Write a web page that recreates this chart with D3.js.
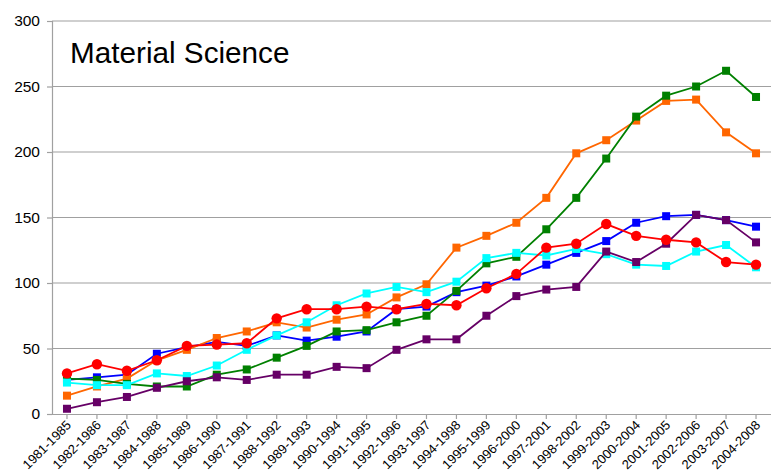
<!DOCTYPE html>
<html><head><meta charset="utf-8">
<script src="https://cdn.jsdelivr.net/npm/d3@7"></script>
<style>body{margin:0;background:#fff}svg{display:block}text{font-family:"Liberation Sans",Arial,sans-serif}</style>
</head><body><svg id="c" width="771" height="474"></svg>
<script>
const categories = ["1981-1985","1982-1986","1983-1987","1984-1988","1985-1989","1986-1990","1987-1991","1988-1992","1989-1993","1990-1994","1991-1995","1992-1996","1993-1997","1994-1998","1995-1999","1996-2000","1997-2001","1998-2002","1999-2003","2000-2004","2001-2005","2002-2006","2003-2007","2004-2008"];
const yTicks = [0,50,100,150,200,250,300];
const title = "Material Science";
const redValues    = [31,38,33,41,52,53,54,73,80,80,82,80,84,83,96,107,127,130,145,136,133,131,116,114];
const blueValues   = [26,28,30,46,51,55,52,60,56,59,63,80,82,93,98,105,114,123,132,146,151,152,148,143];
const orangeValues = [14,21,27,41,49,58,63,70,66,72,76,89,99,127,136,146,165,199,209,224,239,240,215,199];
const greenValues  = [27,26,23,21,21,30,34,43,52,63,64,70,75,94,115,120,141,165,195,227,243,250,262,242];
const cyanValues   = [24,22,22,31,29,37,49,60,70,83,92,97,93,101,119,123,121,126,122,114,113,124,129,112];
const purpleValues = [4,9,13,20,25,28,26,30,30,36,35,49,57,57,75,90,95,97,124,116,130,152,148,131];

const series = [
  {name:"blue", values:blueValues, color:"#0000FF", shape:"square"},
  {name:"orange", values:orangeValues, color:"#FF6600", shape:"square"},
  {name:"green", values:greenValues, color:"#008000", shape:"square"},
  {name:"cyan", values:cyanValues, color:"#00FFFF", shape:"square"},
  {name:"purple", values:purpleValues, color:"#660066", shape:"square"},
  {name:"red", values:redValues, color:"#FF0000", shape:"circle"}
];

const svg = d3.select("#c");
const m = {left:52, right:0, top:21, bottom:60};
const W = 771, H = 474;
const x = d3.scaleBand().domain(categories).range([m.left, W - m.right]);
const y = d3.scaleLinear().domain([0,300]).range([414, m.top]);

// gridlines
svg.append("g").selectAll("line").data(yTicks.filter(d=>d>0)).join("line")
  .attr("x1", m.left).attr("x2", W).attr("y1", d=>y(d)).attr("y2", d=>y(d))
  .attr("stroke","#a0a0a0").attr("stroke-width",1.2);

// y axis
const ya = svg.append("g").attr("transform",`translate(${m.left},0)`)
  .call(d3.axisLeft(y).tickValues(yTicks).tickSize(5).tickPadding(7));
ya.select(".domain").attr("stroke","#a0a0a0").attr("stroke-width",1.2);
ya.selectAll(".tick line").attr("stroke","#a0a0a0").attr("stroke-width",1.2);
ya.selectAll("text").attr("font-size",15.5).attr("fill","#000").attr("font-family","Liberation Sans, Arial, sans-serif");

// x axis
const xa = svg.append("g").attr("transform",`translate(0,${y(0)})`)
  .call(d3.axisBottom(x).tickSize(5).tickSizeOuter(0));
xa.select(".domain").attr("stroke","#a0a0a0").attr("stroke-width",1.2);
xa.selectAll(".tick line").attr("stroke","#a0a0a0").attr("stroke-width",1.2);
xa.selectAll("text").attr("font-size",13).attr("fill","#000")
  .attr("font-family","Liberation Sans, Arial, sans-serif")
  .attr("text-anchor","end").attr("dy",0).attr("y",0)
  .attr("transform","translate(5,12) rotate(-45)");

const cx = d => x(d) + x.bandwidth()/2;
const line = d3.line().x((d,i)=>cx(categories[i])).y(d=>y(d));

series.forEach(s=>{
  const g = svg.append("g");
  g.append("path").attr("d", line(s.values)).attr("fill","none")
    .attr("stroke", s.color).attr("stroke-width",1.8);
  if (s.shape === "circle") {
    g.selectAll("circle").data(s.values).join("circle")
      .attr("cx",(d,i)=>cx(categories[i])).attr("cy",d=>y(d)).attr("r",5.2).attr("fill",s.color);
  } else {
    g.selectAll("rect").data(s.values).join("rect")
      .attr("x",(d,i)=>cx(categories[i])-4).attr("y",d=>y(d)-4)
      .attr("width",8).attr("height",8).attr("fill",s.color);
  }
});

svg.append("text").attr("x",70).attr("y",63).attr("font-size",29.7).attr("fill","#000").text(title);
</script></body></html>
